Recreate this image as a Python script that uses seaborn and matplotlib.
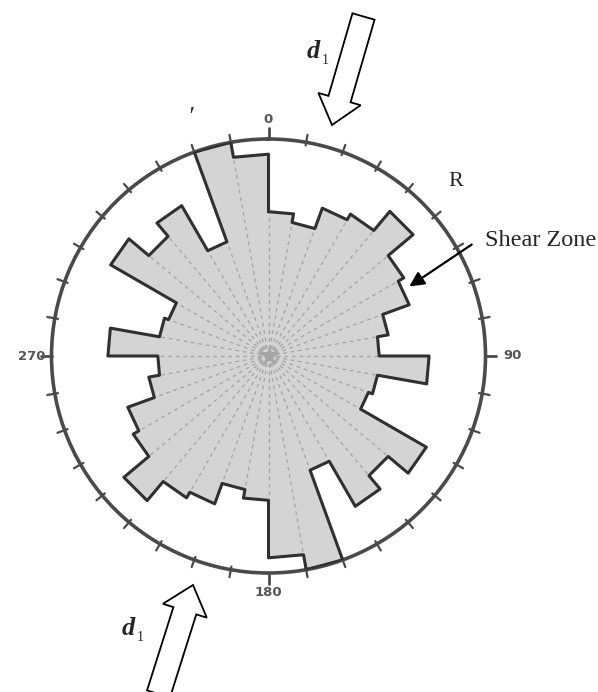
import numpy as np
import pandas as pd
import matplotlib
matplotlib.use("Agg")
import matplotlib.pyplot as plt
import seaborn as sns
from matplotlib.patches import FancyArrow

# ---- data: rose diagram, 10-degree bins (azimuth, clockwise from north) ----
bin_start_deg = list(range(0, 360, 10))
freq = [0.665, 0.625, 0.725, 0.755, 0.87, 0.72, 0.69, 0.56, 0.51,
        0.74, 0.51, 0.49, 0.84, 0.72, 0.80, 0.56, 1.00, 0.93,
        0.665, 0.625, 0.725, 0.755, 0.87, 0.72, 0.69, 0.56, 0.51,
        0.74, 0.51, 0.49, 0.84, 0.72, 0.80, 0.56, 1.00, 0.93]
bin_width_deg = 10
tick_deg = list(range(0, 360, 10))
cardinal_deg = [0, 90, 180, 270]
cardinal_labels = ["0", "90", "180", "270"]

sns.set_style("white")
plt.rcParams["font.family"] = ["DejaVu Sans"]

W, H = 598, 692
fig = plt.figure(figsize=(W / 100, H / 100), dpi=100)
cx, cy, R = 268.5, 356, 217
ax = fig.add_axes([(cx - R) / W, (H - cy - R) / H, 2 * R / W, 2 * R / H],
                  projection="polar")
ax.set_theta_zero_location("N")
ax.set_theta_direction(-1)

# outline of the rose (step polygon)
th, rr = [], []
for s, f in zip(bin_start_deg, freq):
    th += [np.deg2rad(s), np.deg2rad(s + bin_width_deg)]
    rr += [f, f]
th.append(th[0]); rr.append(rr[0])
df = pd.DataFrame({"theta": th, "r": rr})

ax.fill(df["theta"], df["r"], color="#d4d4d4", zorder=1, lw=0)

# dashed radial lines at bin boundaries
for i, s in enumerate(bin_start_deg):
    rad = min(freq[i], freq[i - 1])
    ax.plot([np.deg2rad(s)] * 2, [0, rad], color="#a3a3a3", lw=0.9,
            ls=(0, (3, 3)), zorder=2)

sns.lineplot(data=df, x="theta", y="r", sort=False, estimator=None, ax=ax,
             color="#303030", lw=2.2, zorder=3)
ax.plot([0], [0], marker="*", ms=13, color="#a6a6a6", zorder=4)

ax.set_ylim(0, 1)
ax.set_xlabel("")
ax.set_ylabel("")
ax.grid(False)
ax.set_xticks([])
ax.set_yticks([])
ax.spines["polar"].set_color("#4a4a4a")
ax.spines["polar"].set_linewidth(2.6)

for d in tick_deg:
    t = np.deg2rad(d)
    if d in cardinal_deg:
        ax.plot([t, t], [1.0, 1.05], color="#4a4a4a", lw=2, clip_on=False)
    else:
        ax.plot([t, t], [0.985, 1.035], color="#4a4a4a", lw=1.6, clip_on=False)

label_r = [1.09, 1.125, 1.09, 1.09]
for d, lab, lr in zip(cardinal_deg, cardinal_labels, label_r):
    ax.text(np.deg2rad(d), lr, lab, ha="center", va="center", fontsize=9.5,
            fontweight="bold", color="#555555", clip_on=False)

# ---- overlay for annotations (pixel coordinates) ----
ov = fig.add_axes([0, 0, 1, 1])
ov.set_xlim(0, W)
ov.set_ylim(H, 0)
ov.axis("off")
ov.patch.set_alpha(0)

ov.add_patch(FancyArrow(363.5, 16.5, -31.5, 108.5, width=23, head_width=44,
                        head_length=27, length_includes_head=True,
                        fc="white", ec="black", lw=1.3))
ov.add_patch(FancyArrow(158.5, 694, 34.5, -109, width=24, head_width=46,
                        head_length=27, length_includes_head=True,
                        fc="white", ec="black", lw=1.3))

ov.annotate("", xy=(407, 288), xytext=(474, 243),
            arrowprops=dict(arrowstyle="-|>", color="black", lw=1.6,
                            mutation_scale=22))

serif = ["Liberation Serif", "DejaVu Serif"]
ov.text(485, 241, "Shear Zone", family=serif, fontsize=17.5, ha="left",
        va="center")
ov.text(456, 181, "R", family=serif, fontsize=16, ha="center", va="center")

for (x, y) in [(307, 58), (122, 635)]:
    ov.text(x, y, "d", family=serif, fontsize=19, fontstyle="italic",
            fontweight="bold", ha="left", va="baseline")
    ov.text(x + 15, y + 6, "1", family=serif, fontsize=10, ha="left",
            va="baseline")

ov.text(190, 118, "\u2032", family=serif, fontsize=18, fontstyle="italic",
        ha="center", va="center")

fig.savefig("out.png", dpi=100)
